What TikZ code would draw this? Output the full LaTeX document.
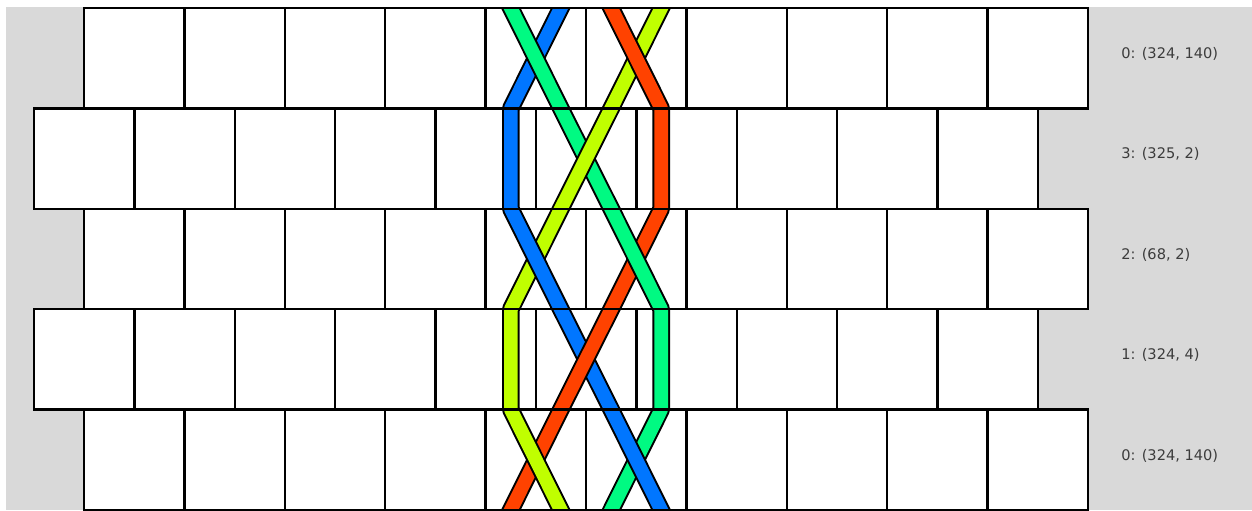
\documentclass[tikz,border=0pt]{standalone}
\usepackage{fontspec}
\newfontfamily\lblfont{DejaVu Sans}
\definecolor{bggray}{HTML}{D9D9D9}
\definecolor{cgreen}{RGB}{0,250,130}
\definecolor{cblue}{RGB}{0,118,255}
\definecolor{cred}{RGB}{255,66,0}
\definecolor{cyellow}{RGB}{192,255,0}
\definecolor{lblgray}{HTML}{3C3C3C}
\tikzset{
  tile/.style={draw=black, line width=1.2pt},
  bandout/.style={draw=black, line width=8.8pt, line join=round},
  bandin/.style={line width=6.8pt, line join=round},
  rowlabel/.style={font=\lblfont\fontsize{7.3}{8}\selectfont, text=lblgray, anchor=west, inner sep=0pt}
}
\newcommand\pgreen{(505.8,-2) -- (560.8,108.4) -- (611.2,208.8) -- (661.2,309.2) -- (661.2,409.6) -- (611.2,510) -- (606.2,520)}
\newcommand\pblue{(565.8,-2) -- (510.8,108.4) -- (510.8,208.8) -- (560.8,309.2) -- (611.2,409.6) -- (661.2,510) -- (666.2,520)}
\newcommand\pred{(606.2,-2) -- (661.2,108.4) -- (661.2,208.8) -- (611.2,309.2) -- (560.8,409.6) -- (510.8,510) -- (505.8,520)}
\newcommand\pyellow{(666.2,-2) -- (611.2,108.4) -- (560.8,208.8) -- (510.8,309.2) -- (510.8,409.6) -- (560.8,510) -- (565.8,520)}
\newcommand\drawband[2]{\draw[bandout] #2; \draw[bandin, draw=#1] #2;}
\begin{document}
\begin{tikzpicture}[x=0.5pt,y=-0.5pt]
\useasboundingbox (0,0) rectangle (1252,510);
\fill[white] (0,0) rectangle (1252,510);
\fill[bggray] (6,7) rectangle (1252,510);
% white tiles
\foreach \r/\xo in {0/84,1/34,2/84,3/34,4/84}{
  \foreach \k in {0,...,9}{
    \fill[white] ({\xo+100.4*\k},{8+100.4*\r}) rectangle ++(100.4,100.4);
  }
}
% row 0
\begin{scope}
  \clip (400,8) rectangle (800,108.4);
  \drawband{cblue}{\pblue}
  \drawband{cyellow}{\pyellow}
  \drawband{cgreen}{\pgreen}
  \drawband{cred}{\pred}
\end{scope}
% row 1
\begin{scope}
  \clip (400,108.4) rectangle (800,208.8);
  \drawband{cblue}{\pblue}
  \drawband{cred}{\pred}
  \drawband{cgreen}{\pgreen}
  \drawband{cyellow}{\pyellow}
\end{scope}
% row 2
\begin{scope}
  \clip (400,208.8) rectangle (800,309.2);
  \drawband{cyellow}{\pyellow}
  \drawband{cred}{\pred}
  \drawband{cblue}{\pblue}
  \drawband{cgreen}{\pgreen}
\end{scope}
% row 3
\begin{scope}
  \clip (400,309.2) rectangle (800,409.6);
  \drawband{cyellow}{\pyellow}
  \drawband{cgreen}{\pgreen}
  \drawband{cblue}{\pblue}
  \drawband{cred}{\pred}
\end{scope}
% row 4
\begin{scope}
  \clip (400,409.6) rectangle (800,512);
  \drawband{cred}{\pred}
  \drawband{cgreen}{\pgreen}
  \drawband{cyellow}{\pyellow}
  \drawband{cblue}{\pblue}
\end{scope}
% tile outlines
\foreach \r/\xo in {0/84,1/34,2/84,3/34,4/84}{
  \foreach \k in {0,...,9}{
    \draw[tile] ({\xo+100.4*\k},{8+100.4*\r}) rectangle ++(100.4,100.4);
  }
}
% labels
\node[rowlabel] (l0) at (1121,53.5) {0: (324, 140)};
\node[rowlabel] (l3) at (1121,154) {3: (325, 2)};
\node[rowlabel] (l2) at (1121,254.5) {2: (68, 2)};
\node[rowlabel] (l1) at (1121,355) {1: (324, 4)};
\node[rowlabel] (l0b) at (1121,455.5) {0: (324, 140)};
\end{tikzpicture}
\end{document}
